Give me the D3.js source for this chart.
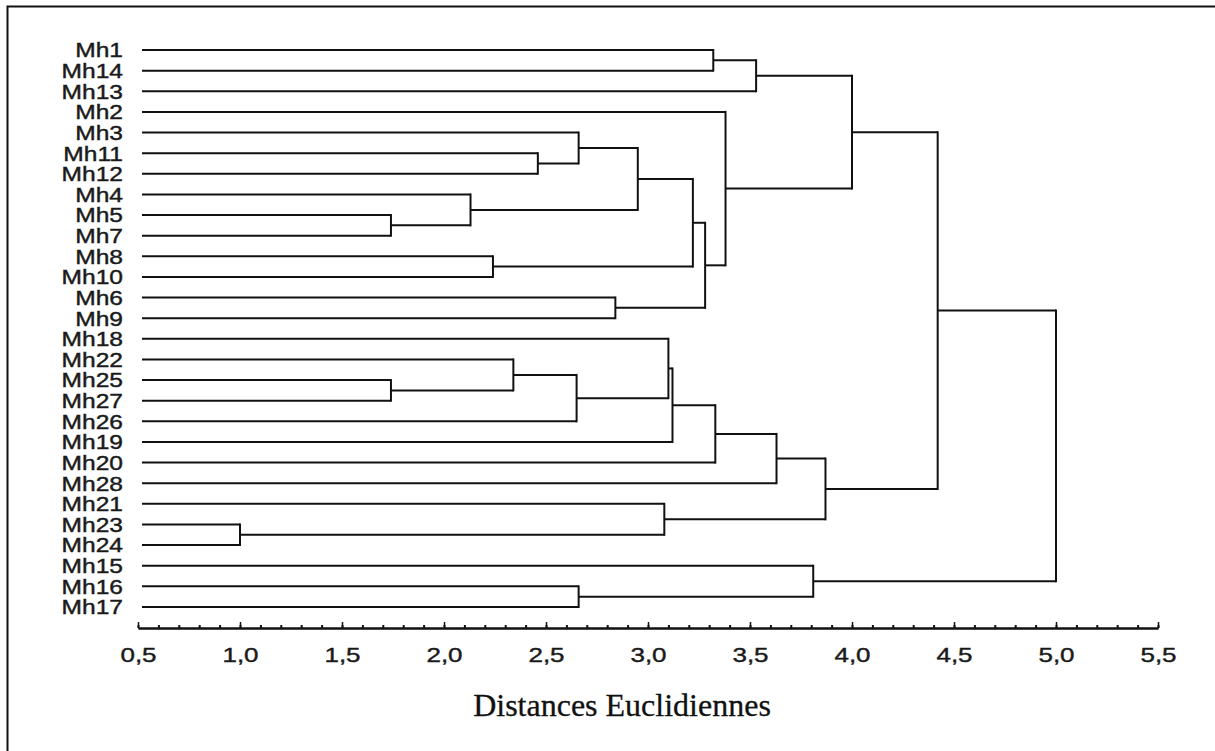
<!DOCTYPE html>
<html>
<head>
	<title>Dendrogramme - Distances Euclidiennes</title>
	<script type="text/javascript" src="https://d3js.org/d3.v7.min.js"></script>
	<style type="text/css">
		body { margin: 0; background: white; }
		.axis path, .axis line {
			fill: none;
			stroke: #111;
			stroke-width: 2px;
		}
		.axis text {
			font-family: "Liberation Sans", Arial, sans-serif;
			font-size: 20px;
			fill: #1a1a1a;
			stroke: #1a1a1a;
			stroke-width: 0.4px;
		}
		.link { fill: none; stroke: #111; stroke-width: 2px; }
		.leaf-label {
			font-family: "Liberation Sans", Arial, sans-serif;
			font-size: 19.5px;
			fill: #1a1a1a;
			stroke: #1a1a1a;
			stroke-width: 0.4px;
		}
	</style>
</head>
<body>
	<script type="text/javascript">
		// leaf order, top to bottom
		var leaves = ["Mh1","Mh14","Mh13","Mh2","Mh3","Mh11","Mh12","Mh4","Mh5","Mh7","Mh8","Mh10","Mh6","Mh9",
			"Mh18","Mh22","Mh25","Mh27","Mh26","Mh19","Mh20","Mh28","Mh21","Mh23","Mh24","Mh15","Mh16","Mh17"];

		// merges: [upper child, lower child, linkage distance]; "nK" = K-th merge
		var merges = [
			["Mh1", "Mh14", 3.32],   // n1
			["n1", "Mh13", 3.53],    // n2
			["Mh11", "Mh12", 2.46],  // n3
			["Mh3", "n3", 2.66],     // n4
			["Mh5", "Mh7", 1.74],    // n5
			["Mh4", "n5", 2.13],     // n6
			["n4", "n6", 2.95],      // n7
			["Mh8", "Mh10", 2.24],   // n8
			["n7", "n8", 3.22],      // n9
			["Mh6", "Mh9", 2.84],    // n10
			["n9", "n10", 3.28],     // n11
			["Mh2", "n11", 3.38],    // n12
			["n2", "n12", 4.00],     // n13
			["Mh25", "Mh27", 1.74],  // n14
			["Mh22", "n14", 2.34],   // n15
			["n15", "Mh26", 2.65],   // n16
			["Mh18", "n16", 3.10],   // n17
			["n17", "Mh19", 3.12],   // n18
			["n18", "Mh20", 3.33],   // n19
			["n19", "Mh28", 3.63],   // n20
			["Mh23", "Mh24", 1.00],  // n21
			["Mh21", "n21", 3.08],   // n22
			["n20", "n22", 3.87],    // n23
			["n13", "n23", 4.42],    // n24
			["Mh16", "Mh17", 2.66],  // n25
			["Mh15", "n25", 3.81],   // n26
			["n24", "n26", 5.00]     // n27
		];

		var tickValues = [0.5, 1.0, 1.5, 2.0, 2.5, 3.0, 3.5, 4.0, 4.5, 5.0, 5.5];
		var axisTitle = "Distances Euclidiennes";

		var width = 1215, height = 751;

		var svg = d3.select("body")
					.append("svg")
					.attr("width", width)
					.attr("height", height);

		// frame (right and bottom edges fall outside the picture)
		svg.append("rect")
			.attr("x", 7.5).attr("y", 6.5)
			.attr("width", width).attr("height", height)
			.style("fill", "none")
			.style("stroke", "#111")
			.style("stroke-width", 2);

		var xScale = d3.scaleLinear()
						.domain([0.5, 5.5])
						.range([138, 1158]);

		// build the tree from the merge list
		var lookup = {};
		leaves.forEach(function(name){ lookup[name] = {name: name, dist: 0.5}; });
		merges.forEach(function(m, i){
			lookup["n" + (i + 1)] = {name: "n" + (i + 1), dist: m[2], children: [lookup[m[0]], lookup[m[1]]]};
		});
		var root = d3.hierarchy(lookup["n" + merges.length]);

		d3.cluster()
			.size([1000, 1])
			.separation(function(){ return 1; })(root);

		var leafNodes = root.leaves();
		var yScale = d3.scaleLinear()
						.domain([leafNodes[0].x, leafNodes[leafNodes.length - 1].x])
						.range([50, 607]);

		var leafStart = xScale.range()[0] + 4;
		function nodeX(d){ return d.children ? xScale(d.data.dist) : leafStart; }

		var g = svg.append("g");

		// horizontal branches
		g.selectAll(".hbranch")
			.data(root.descendants().filter(function(d){ return d.parent; }))
			.enter()
			.append("line")
			.attr("class", "link hbranch")
			.attr("x1", function(d){ return nodeX(d); })
			.attr("x2", function(d){ return xScale(d.parent.data.dist); })
			.attr("y1", function(d){ return yScale(d.x); })
			.attr("y2", function(d){ return yScale(d.x); });

		// vertical joins
		g.selectAll(".vbranch")
			.data(root.descendants().filter(function(d){ return d.children; }))
			.enter()
			.append("line")
			.attr("class", "link vbranch")
			.attr("x1", function(d){ return xScale(d.data.dist); })
			.attr("x2", function(d){ return xScale(d.data.dist); })
			.attr("y1", function(d){ return yScale(d.children[0].x) - 1; })
			.attr("y2", function(d){ return yScale(d.children[1].x) + 1; });

		// leaf labels
		g.selectAll(".leaf-label")
			.data(leafNodes)
			.enter()
			.append("g")
			.attr("transform", function(d){ return "translate(123," + yScale(d.x) + ")"; })
			.append("text")
			.attr("class", "leaf-label")
			.attr("text-anchor", "end")
			.attr("dy", "0.36em")
			.attr("transform", "scale(1.26,1.05)")
			.text(function(d){ return d.data.name; });

		// axis with comma decimals
		var frLocale = d3.formatLocale({decimal: ",", thousands: " ", grouping: [3], currency: ["", " €"]});
		var fmt = frLocale.format(".1f");

		var axisY = 628;

		svg.append("g")
			.attr("class", "axis")
			.attr("transform", "translate(0," + axisY + ")")
			.call(d3.axisBottom(xScale)
				.tickValues(d3.range(5, 56).map(function(v){ return v / 10; }))
				.tickSize(-3)
				.tickSizeOuter(0)
				.tickFormat(""));

		var major = svg.append("g")
			.attr("class", "axis")
			.attr("transform", "translate(0," + axisY + ")")
			.call(d3.axisBottom(xScale)
				.tickValues(tickValues)
				.tickSize(-6)
				.tickSizeOuter(0)
				.tickPadding(20)
				.tickFormat(fmt));

		major.selectAll("text")
			.attr("transform", "scale(1.3,1)");
		major.selectAll(".tick line").style("stroke-width", 1.5);

		svg.append("text")
			.attr("x", 622)
			.attr("y", 716)
			.attr("text-anchor", "middle")
			.style("font-family", "'Liberation Serif', 'Times New Roman', serif")
			.style("font-size", "32px")
			.style("fill", "#111")
			.style("stroke", "#111")
			.style("stroke-width", 0.3)
			.text(axisTitle);
	</script>
</body>
</html>
